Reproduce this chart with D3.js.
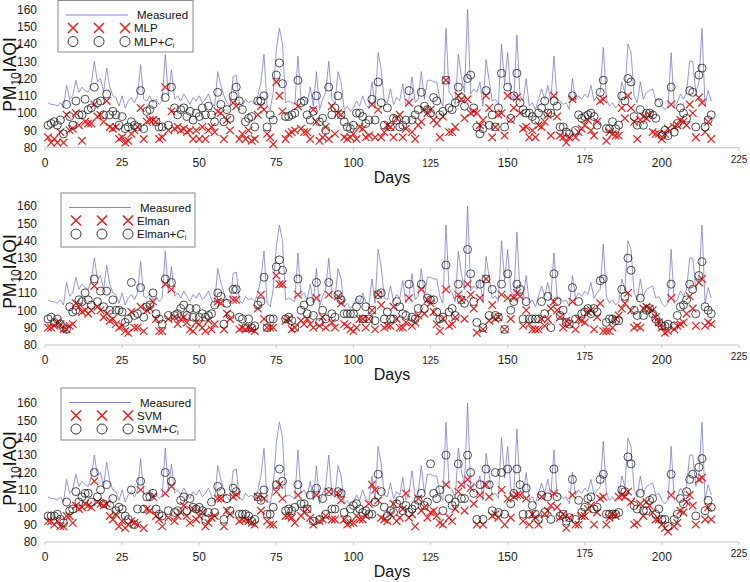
<!DOCTYPE html>
<html><head><meta charset="utf-8">
<script src="https://cdn.jsdelivr.net/npm/d3@7/dist/d3.min.js"></script>
<style>body{margin:0;background:#fff} svg{display:block;font-family:"Liberation Sans",Arial,sans-serif}</style>
</head><body><svg id="c" width="750" height="582"></svg>
<script>
const measured = [
106,105,105,104,106,103,116,108,110,119,
112,115,113,112,117,130,118,120,112,126,
115,110,109,104,110,103,107,109,106,110,
128,108,107,110,106,108,105,107,134,110,
125,108,110,107,111,108,105,109,107,110,
106,108,111,106,104,124,116,110,106,104,
121,122,106,104,108,106,107,105,110,118,
134,104,102,112,137,149,140,106,107,106,
105,133,108,110,106,115,104,124,102,108,
112,130,108,106,124,118,102,104,101,103,
107,104,110,105,103,118,104,135,125,107,
106,114,105,109,107,117,104,108,121,106,
108,124,108,119,119,118,118,108,104,149,
112,110,105,134,121,112,160,111,114,112,
118,104,131,119,107,108,105,140,117,135,
111,108,145,110,107,120,104,106,102,108,
114,108,116,107,133,108,107,105,106,102,
120,107,110,108,111,109,116,107,110,112,
138,108,104,106,103,105,118,112,140,135,
110,106,118,108,112,113,114,107,108,104,
102,104,135,104,106,111,108,112,130,130,
112,118,149,104,113,107];

const mlp = [
86,83,85,83,89,83,99,90,91,100,
93,84,95,94,94,105,98,99,95,107,
92,91,92,85,86,83,84,88,90,92,
103,85,95,96,96,95,85,86,115,90,
101,91,92,90,91,89,90,85,90,85,
92,85,90,92,89,101,100,85,96,90,
106,104,85,88,85,90,84,85,99,104,
102,88,86,82,118,110,101,85,88,89,
90,104,91,89,89,85,102,95,84,86,
92,85,104,88,100,99,86,85,86,88,
85,92,91,86,87,105,86,102,86,89,
93,92,86,97,99,86,91,106,89,85,
93,95,102,100,102,96,94,86,98,119,
89,89,92,110,108,97,108,100,101,100,
93,96,110,103,86,92,99,100,87,110,
96,103,109,100,91,92,86,90,86,93,
92,95,99,87,110,98,87,86,83,86,
108,86,89,91,93,96,90,87,95,107,
108,84,89,88,87,87,103,97,110,103,
95,85,96,98,97,99,89,88,88,85,
88,91,105,92,93,96,95,93,105,100,
86,109,106,89,95,85];

const mlpCi = [
93,94,95,93,96,88,105,98,93,107,
99,99,108,102,103,115,106,107,99,111,
99,101,99,93,98,91,92,95,93,92,
113,91,101,102,105,95,92,92,109,93,
115,103,99,102,103,98,101,96,100,98,
103,99,104,99,95,112,105,95,102,97,
110,115,107,102,95,97,98,92,107,107,
110,92,99,96,122,129,117,98,98,99,
100,119,106,107,99,96,101,110,95,97,
90,115,99,103,110,99,95,92,91,93,
100,100,98,94,96,108,96,118,106,93,
103,92,97,96,92,93,96,113,96,99,
102,112,104,102,100,109,107,99,101,119,
103,102,106,115,109,104,120,122,103,92,
88,91,113,93,99,92,103,123,92,115,
97,110,123,106,102,100,100,98,96,100,
103,107,100,100,107,104,92,92,89,88,
110,90,99,97,98,99,100,98,93,112,
119,91,91,95,91,93,110,107,120,118,
98,93,102,93,100,100,99,97,106,87,
90,87,115,89,94,103,100,97,113,112,
92,122,126,92,96,99];

const elman = [
90,90,91,93,92,89,89,91,92,104,
102,99,100,98,100,114,102,100,96,98,
94,95,92,90,91,88,87,99,90,90,
102,88,100,101,105,95,88,88,115,95,
112,96,92,95,96,93,89,88,93,92,
90,88,94,89,92,105,104,89,98,95,
106,106,89,90,89,90,89,88,101,109,
95,90,90,90,120,115,115,94,95,89,
90,109,94,92,95,92,90,107,91,96,
90,109,93,90,108,104,92,91,89,88,
90,95,95,90,95,100,89,109,103,90,
91,91,102,95,90,90,93,107,91,93,
97,112,98,106,104,99,92,88,95,112,
91,92,96,109,106,95,115,109,101,87,
107,89,118,94,103,95,96,109,89,107,
95,107,110,108,91,100,92,89,89,89,
95,91,95,101,105,100,96,90,94,92,
105,89,95,94,93,99,100,89,96,104,
88,88,88,90,95,97,101,104,110,100,
90,91,90,101,102,101,100,96,93,90,
87,88,107,89,91,92,93,98,108,101,
91,116,118,91,93,92];

const elmanCi = [
95,96,93,95,92,90,89,102,99,100,
106,105,110,106,103,118,105,111,102,111,
100,106,100,100,99,93,95,116,97,98,
113,96,102,103,110,98,95,92,118,97,
116,97,98,101,103,97,101,96,101,96,
98,96,97,98,103,110,108,92,104,97,
112,112,96,95,90,95,90,91,103,105,
119,90,95,95,125,129,123,95,96,94,
90,118,100,103,98,105,97,116,93,100,
95,116,98,96,109,106,98,98,98,98,
102,106,95,102,95,100,94,109,110,95,
99,95,95,105,102,98,97,115,96,95,
101,115,101,107,106,106,99,95,96,126,
99,101,97,115,106,104,135,121,105,93,
115,90,118,97,112,97,96,115,89,121,
100,105,115,112,95,105,95,95,95,95,
105,98,108,90,121,105,97,100,93,92,
113,95,105,98,99,101,98,101,99,117,
118,93,95,95,94,94,112,108,130,123,
100,97,107,97,100,101,98,95,93,91,
91,92,115,91,97,102,103,106,115,112,
98,120,128,102,100,98];

const svm = [
92,92,90,92,89,89,95,95,91,101,
99,100,102,101,100,115,103,102,101,102,
95,93,96,89,92,88,90,92,91,90,
110,88,99,98,106,95,93,89,108,94,
112,92,95,97,101,95,91,99,93,95,
97,89,91,94,95,105,105,89,98,96,
106,107,92,93,93,92,91,90,106,98,
105,92,90,90,109,113,105,95,95,94,
91,107,95,97,99,94,90,107,92,93,
95,109,93,93,108,104,93,90,91,91,
95,93,93,95,102,113,110,104,94,93,
92,96,102,92,94,99,108,94,96,89,
105,98,100,94,97,98,95,91,90,113,
94,92,99,109,113,98,116,111,102,90,
107,90,113,106,95,96,94,110,90,105,
94,106,107,107,92,105,90,96,94,90,
106,96,98,101,108,100,94,96,88,94,
107,90,90,95,95,99,101,90,97,105,
106,90,94,96,95,106,107,106,109,103,
90,91,102,95,103,101,97,93,93,90,
88,86,107,89,91,98,97,103,107,101,
90,116,117,93,100,93];

const svmCi = [
95,95,95,96,93,91,103,98,99,109,
103,106,108,108,103,120,106,110,102,113,
101,105,98,100,99,95,93,110,90,99,
115,99,106,106,108,99,96,95,120,98,
115,97,98,104,106,98,105,100,99,100,
98,93,97,103,97,112,109,93,105,98,
111,109,96,96,96,95,92,93,106,104,
110,96,96,100,113,122,115,98,99,98,
100,113,102,102,99,107,92,111,93,105,
96,109,99,99,109,108,97,93,99,101,
102,99,97,98,96,96,103,119,109,100,
95,98,97,102,104,98,101,97,99,101,
104,108,101,103,125,108,105,110,98,130,
105,101,103,125,105,105,130,120,108,93,
113,93,122,113,98,120,97,120,96,122,
102,108,122,113,96,111,96,101,96,93,
107,97,106,93,122,106,95,96,92,94,
116,93,104,97,100,105,106,99,100,116,
119,96,96,96,96,97,110,109,129,125,
101,99,108,98,98,104,105,96,99,93,
93,89,119,93,96,105,102,109,116,119,
95,123,128,98,104,100];

const xTicks = [0,25,50,75,100,125,150,175,200,225];
const yTicks = [80,90,100,110,120,130,140,150,160];
const modelNames = ["MLP","Elman","SVM"];
const measuredName = "Measured";
const xTitle = "Days";

const svg = d3.select("#c");
const x = d3.scaleLinear().domain([0,225]).range([45,739]);

const layout = [
  {top:9.3, bottom:147.7, lx:58, ly:0.5, lw:135, lh:51.5},
  {top:206, bottom:345, lx:61, ly:193, lw:134, lh:54},
  {top:403, bottom:542, lx:61, ly:388, lw:134, lh:52}
];
const series = [[mlp, mlpCi],[elman, elmanCi],[svm, svmCi]];

// per-label style quirks of the original raster
const tickStyle = v => {
  if (v===125) return {fs:10, dy:19};
  if (v===175 || v===225) return {fs:10, dy:15};
  if (v===25 || v===75) return {fs:11.5, dy:18.5};
  return {fs:12, dy:19};
};

const xPath = s => `M${-s},${-s}L${s},${s}M${-s},${s}L${s},${-s}`;

layout.forEach((L, pi) => {
  const [base, ci] = series[pi];
  const name = modelNames[pi];
  const y = d3.scaleLinear().domain([80,160]).range([L.bottom, L.top]);
  const g = svg.append("g");

  // y tick labels
  g.selectAll(".yt").data(yTicks).join("text")
    .attr("x", 37).attr("y", d => y(d)).attr("dy", "0.36em")
    .attr("text-anchor", "end").attr("font-size", 12).attr("fill", "#222")
    .text(d => d);

  // x axis
  g.append("line").attr("x1", x(0)).attr("x2", x(225))
    .attr("y1", y(80)).attr("y2", y(80))
    .attr("stroke", "#c4c4c4").attr("stroke-width", 1);
  g.selectAll(".xtk").data(xTicks).join("line")
    .attr("x1", d => x(d)).attr("x2", d => x(d))
    .attr("y1", y(80)).attr("y2", y(80) + 3)
    .attr("stroke", "#c4c4c4").attr("stroke-width", 1);
  g.selectAll(".xt").data(xTicks).join("text")
    .attr("x", d => x(d)).attr("y", d => y(80) + tickStyle(d).dy)
    .attr("text-anchor", "middle").attr("font-size", d => tickStyle(d).fs).attr("fill", "#222")
    .text(d => d);

  g.append("text").attr("x", 392).attr("y", y(80) + 35)
    .attr("text-anchor", "middle").attr("font-size", 16).attr("fill", "#111")
    .text(xTitle);

  // y title
  const yc = (L.top + L.bottom) / 2 - 4;
  const yt = g.append("text").attr("transform", `translate(16,${yc}) rotate(-90)`)
    .attr("text-anchor", "middle").attr("font-size", 17.5).attr("fill", "#111");
  yt.append("tspan").text("PM");
  yt.append("tspan").attr("font-size", 12).attr("dy", 4).text("10");
  yt.append("tspan").attr("dy", -4).text("IAQI");

  // measured line
  const line = d3.line().x((d,i) => x(i+1)).y(d => y(d));
  g.append("path").datum(measured).attr("d", line)
    .attr("fill", "none").attr("stroke", "#7373d6").attr("stroke-width", 0.75);

  // model (X)
  g.selectAll(".xm").data(base).join("path")
    .attr("transform", (d,i) => `translate(${x(i+1)},${y(d)})`)
    .attr("d", xPath(3.8)).attr("stroke", "#ee1c1c").attr("stroke-width", 1.2).attr("fill", "none");

  // model + Ci (circles)
  g.selectAll(".cm").data(ci).join("circle")
    .attr("cx", (d,i) => x(i+1)).attr("cy", d => y(d)).attr("r", 4)
    .attr("fill", "none").attr("stroke", "#222").attr("stroke-width", 0.8);

  // legend
  const lg = g.append("g");
  lg.append("rect").attr("x", L.lx).attr("y", L.ly).attr("width", L.lw).attr("height", L.lh)
    .attr("fill", "#fff").attr("stroke", "#8a8a8a").attr("stroke-width", 1);
  const r1 = L.ly + 14.5, r2 = L.ly + 27.5, r3 = L.ly + 41;
  const mx = [L.lx + 15, L.lx + 41, L.lx + 67];
  lg.append("line").attr("x1", L.lx + 8).attr("x2", L.lx + 70).attr("y1", r1).attr("y2", r1)
    .attr("stroke", "#7373d6").attr("stroke-width", 0.9);
  lg.append("text").attr("x", L.lx + 79).attr("y", r1).attr("dy", "0.36em")
    .attr("font-size", 11.5).attr("fill", "#111").text(measuredName);
  lg.selectAll(".lx").data(mx).join("path")
    .attr("transform", d => `translate(${d},${r2})`).attr("d", xPath(5))
    .attr("stroke", "#ee1c1c").attr("stroke-width", 1.5).attr("fill", "none");
  lg.append("text").attr("x", L.lx + 76).attr("y", r2).attr("dy", "0.36em")
    .attr("font-size", 11.5).attr("fill", "#111").text(name);
  lg.selectAll(".lc").data(mx).join("circle")
    .attr("cx", d => d).attr("cy", r3).attr("r", 5)
    .attr("fill", "none").attr("stroke", "#222").attr("stroke-width", 0.9);
  const ct = lg.append("text").attr("x", L.lx + 76).attr("y", r3).attr("dy", "0.36em")
    .attr("font-size", 11.5).attr("fill", "#111");
  ct.append("tspan").text(name + "+");
  ct.append("tspan").attr("font-style", "italic").text("C");
  ct.append("tspan").attr("font-size", 7).attr("dy", 2).text("i");
});
</script></body></html>
